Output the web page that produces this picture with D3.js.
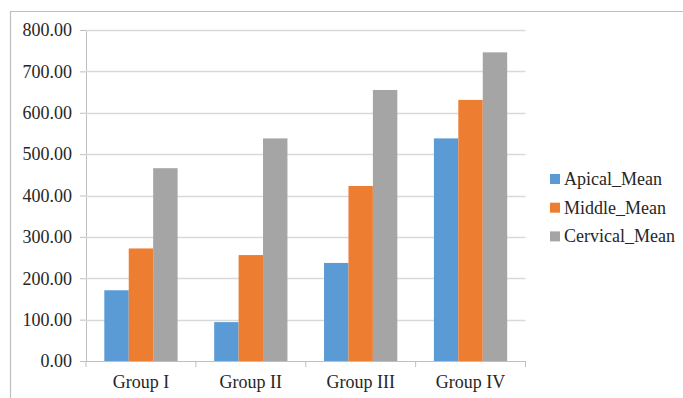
<!DOCTYPE html>
<html>
<head>
<meta charset="utf-8">
<script src="https://cdn.jsdelivr.net/npm/d3@7"></script>
<style>
  html, body { margin: 0; padding: 0; background: #fff; }
  svg { display: block; }
</style>
</head>
<body>
<svg id="chart" width="683" height="398"></svg>
<script>
// Group categories and the three mean series
const groups = ["Group I", "Group II", "Group III", "Group IV"];
const seriesNames = ["Apical_Mean", "Middle_Mean", "Cervical_Mean"];
const apicalMean = [171, 94, 237, 538];
const middleMean = [272, 256, 423, 631];
const cervicalMean = [466, 538, 655, 746];
const yTicks = [0, 100, 200, 300, 400, 500, 600, 700, 800];
const colors = ["#5b9bd5", "#ed7d31", "#a5a5a5"];

const seriesValues = [apicalMean, middleMean, cervicalMean];
const rows = groups.map((g, i) => ({
  group: g,
  values: seriesNames.map((s, k) => ({ key: s, value: seriesValues[k][i] }))
}));

const svg = d3.select("#chart");
const font = "'Liberation Serif', 'Times New Roman', serif";
const textColor = "#262626";

// Outer frame (top and left edges)
svg.append("path")
  .attr("d", "M10.5,398 V11.5 H683")
  .attr("fill", "none")
  .attr("stroke", "#bfbfbf")
  .attr("stroke-width", 1.2);

const plot = { left: 86, right: 525.5, top: 30, bottom: 361 };

const x0 = d3.scaleBand()
  .domain(groups)
  .range([plot.left, plot.right])
  .paddingInner(0.333)
  .paddingOuter(0.1667);

const x1 = d3.scaleBand()
  .domain(seriesNames)
  .range([0, x0.bandwidth()]);

const y = d3.scaleLinear()
  .domain([0, 800])
  .range([plot.bottom, plot.top]);

// Horizontal gridlines with short ticks left of the axis
const yAxis = d3.axisLeft(y)
  .tickValues(yTicks)
  .tickFormat(d3.format(".2f"))
  .tickSize(6)
  .tickPadding(8);

const gy = svg.append("g")
  .attr("transform", `translate(${plot.left},0)`)
  .call(yAxis);
gy.select(".domain").attr("stroke", "#bfbfbf");
gy.selectAll(".tick line").attr("stroke", "#bfbfbf");
gy.selectAll(".tick text")
  .attr("font-family", font)
  .attr("font-size", 18)
  .attr("fill", textColor);

svg.append("g")
  .selectAll("line")
  .data(yTicks.filter(d => d > 0))
  .join("line")
  .attr("x1", plot.left)
  .attr("x2", plot.right)
  .attr("y1", d => Math.round(y(d)) + 0.5)
  .attr("y2", d => Math.round(y(d)) + 0.5)
  .attr("stroke", "#d9d9d9")
  .attr("stroke-width", 1.5);

// Bars
const gBars = svg.append("g");
gBars.selectAll("g")
  .data(rows)
  .join("g")
  .attr("transform", d => `translate(${x0(d.group)},0)`)
  .selectAll("rect")
  .data(d => d.values)
  .join("rect")
  .attr("x", d => x1(d.key))
  .attr("width", x1.bandwidth())
  .attr("y", d => y(d.value))
  .attr("height", d => y(0) - y(d.value))
  .attr("fill", (d, i) => colors[i]);

// Category axis with ticks between groups
const boundaries = d3.range(groups.length + 1).map(i =>
  plot.left + i * (plot.right - plot.left) / groups.length);

const gx = svg.append("g");
gx.append("line")
  .attr("x1", plot.left).attr("x2", plot.right)
  .attr("y1", plot.bottom + 0.5).attr("y2", plot.bottom + 0.5)
  .attr("stroke", "#bfbfbf").attr("stroke-width", 1.2);
gx.selectAll("line.tick")
  .data(boundaries)
  .join("line")
  .attr("class", "tick")
  .attr("x1", d => d).attr("x2", d => d)
  .attr("y1", plot.bottom).attr("y2", plot.bottom + 6)
  .attr("stroke", "#bfbfbf");
gx.selectAll("text")
  .data(groups)
  .join("text")
  .attr("x", d => x0(d) + x0.bandwidth() / 2)
  .attr("y", 388)
  .attr("text-anchor", "middle")
  .attr("font-family", font)
  .attr("font-size", 18)
  .attr("fill", textColor)
  .text(d => d);

// Legend
const legend = svg.append("g")
  .attr("transform", "translate(550,179)");
const item = legend.selectAll("g")
  .data(seriesNames)
  .join("g")
  .attr("transform", (d, i) => `translate(0,${i * 28.7})`);
item.append("rect")
  .attr("x", 0).attr("y", -5)
  .attr("width", 10).attr("height", 10)
  .attr("fill", (d, i) => colors[i]);
item.append("text")
  .attr("x", 14)
  .attr("y", 6)
  .attr("font-family", font)
  .attr("font-size", 18)
  .attr("fill", textColor)
  .text(d => d);
</script>
</body>
</html>
